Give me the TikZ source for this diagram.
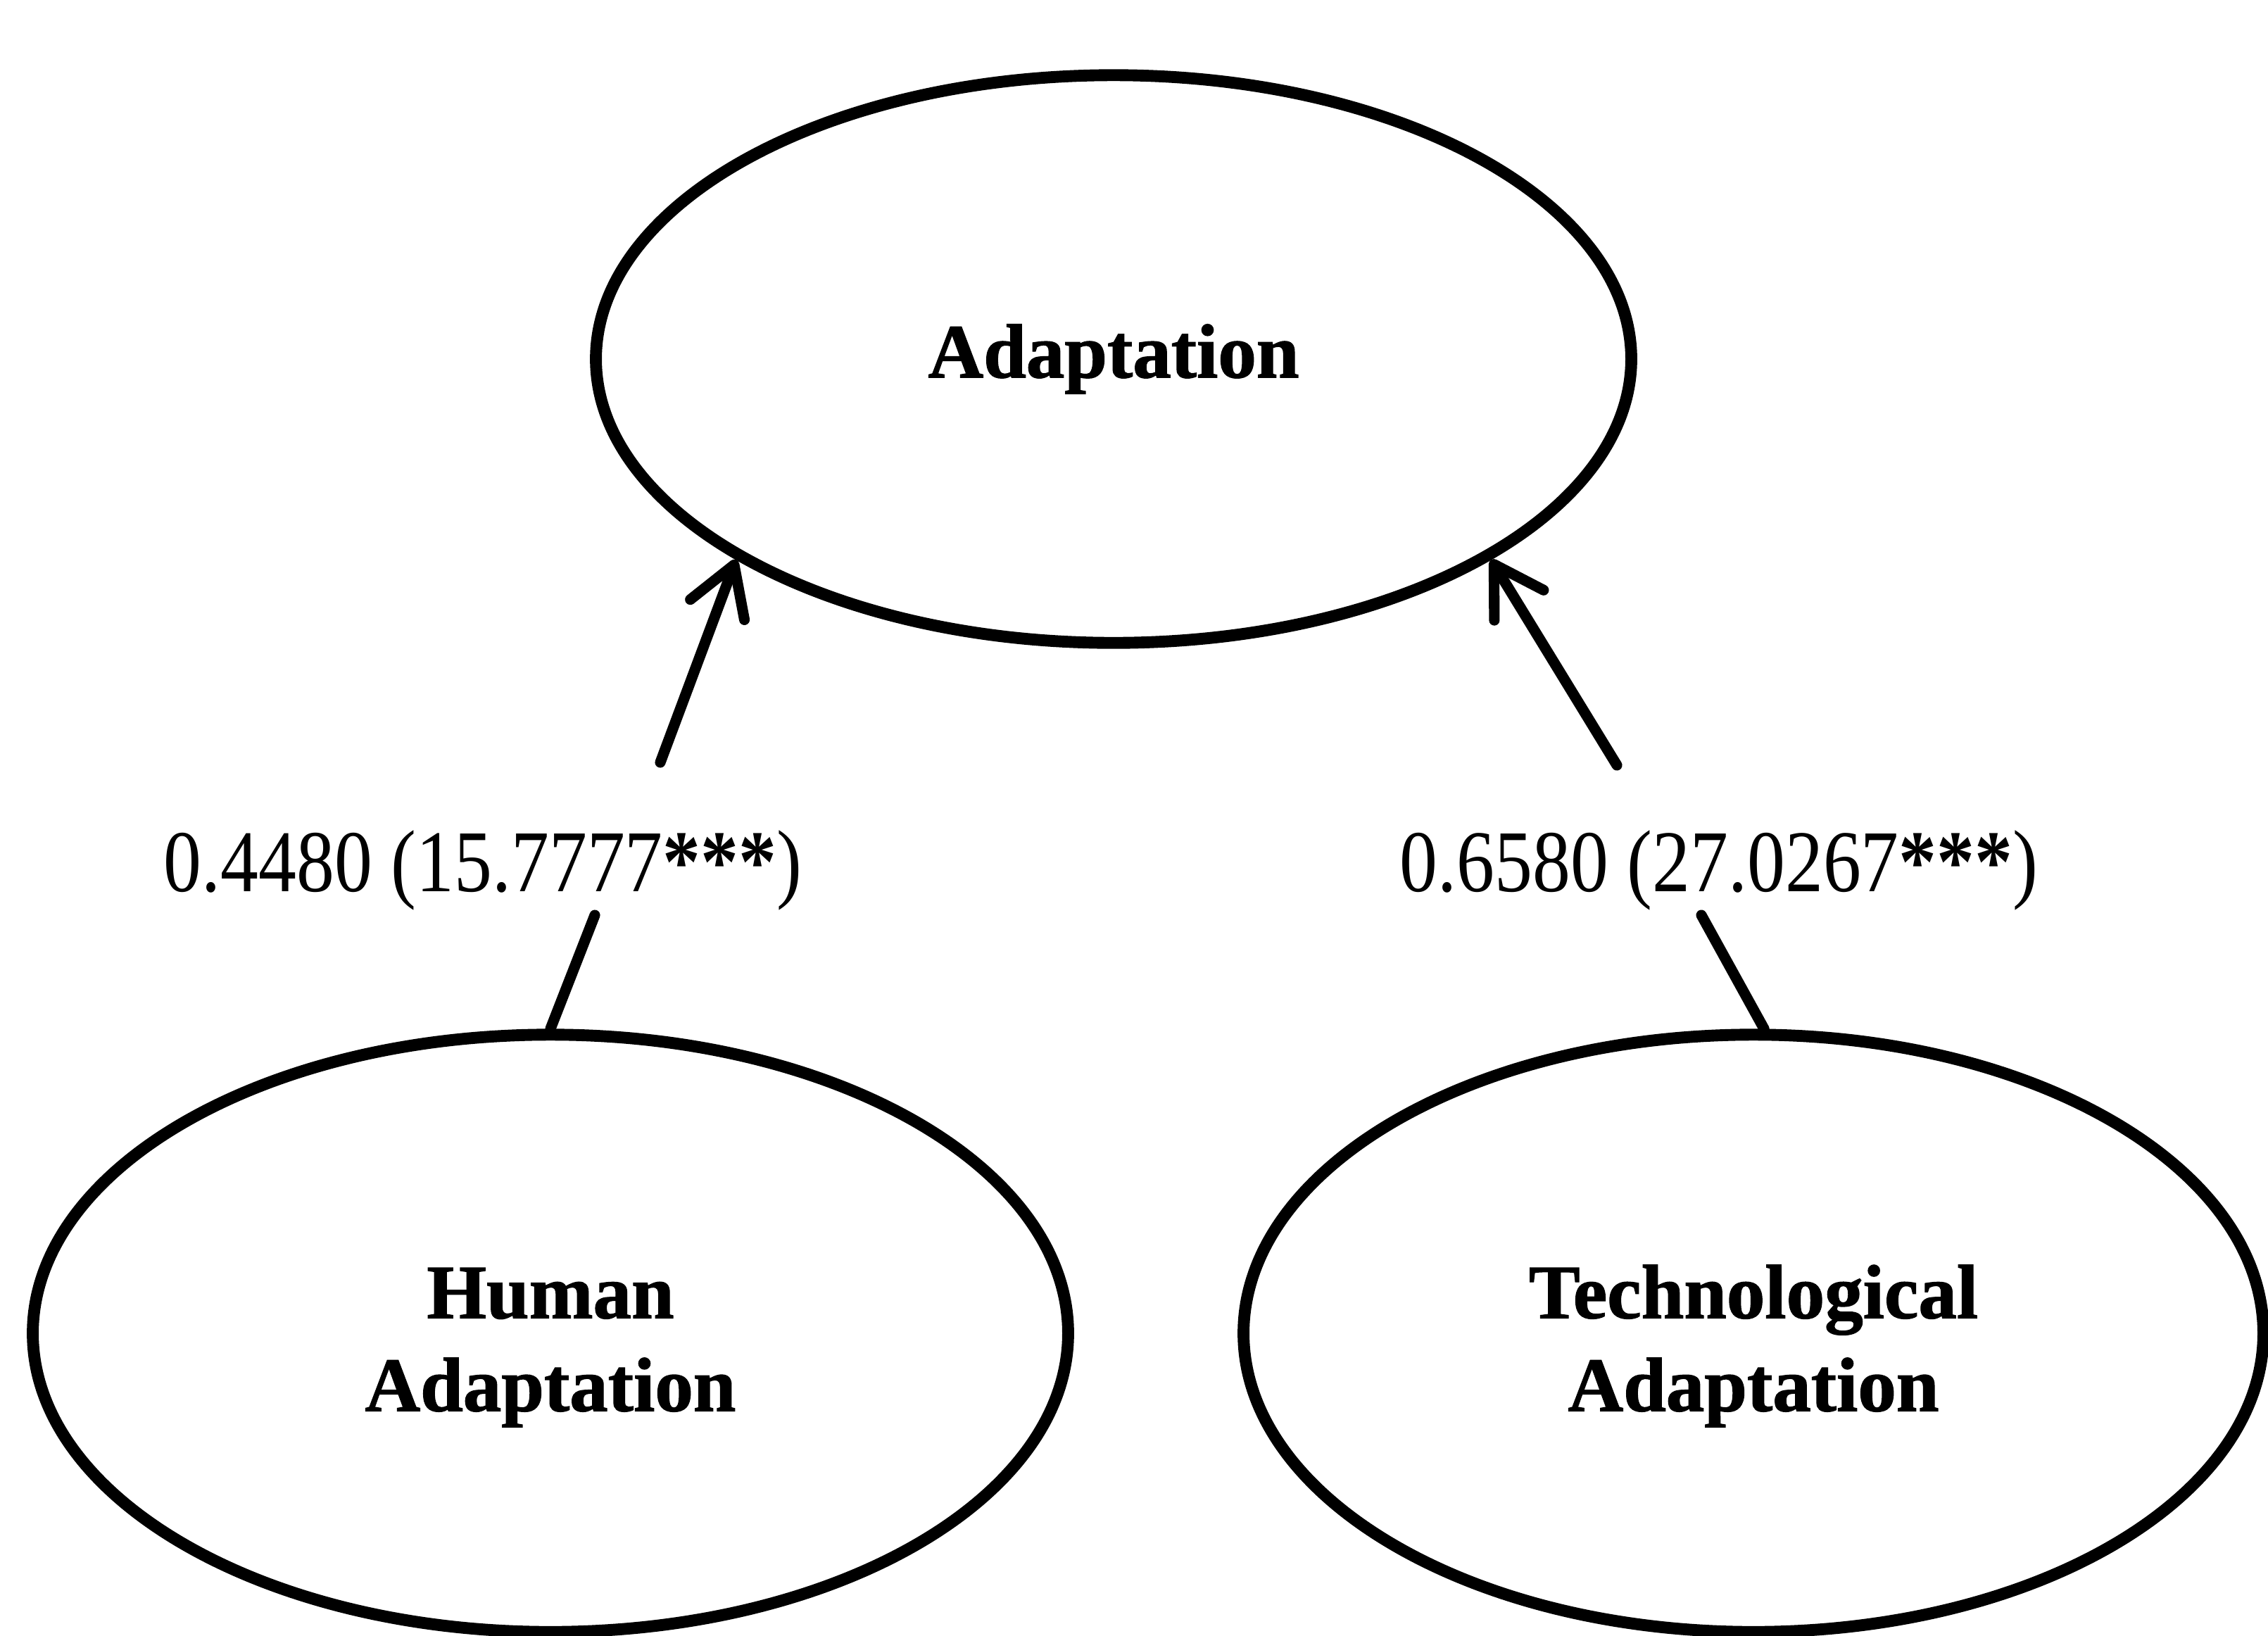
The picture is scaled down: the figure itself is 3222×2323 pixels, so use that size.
\documentclass[tikz,border=0pt]{standalone}
\usepackage{fontspec}
\setmainfont{Liberation Serif}
\newfontfamily\bcond{Liberation Serif}[FakeStretch=1.0,FakeBold=1.2]
\newfontfamily\rcond{Liberation Serif}[FakeStretch=0.86]
\usetikzlibrary{shapes.geometric,arrows.meta}
\newcommand{\twolines}[2]{\raisebox{-1.8mm}[\height][\depth]{\begin{tabular}{@{}c@{}}#1\\#2\end{tabular}}}
\begin{document}
\begin{tikzpicture}[x=0.01cm,y=-0.01cm,
  oval/.style={ellipse,draw,line width=4.8pt,fill=white,inner sep=0pt,
    minimum width=14.7cm,minimum height=8.48cm,align=center,
    font=\bcond\bfseries\fontsize{31}{37.5}\selectfont},
  coef/.style={inner sep=0pt,font=\rcond\fontsize{35.6}{40}\selectfont},
  link/.style={line width=4.3pt,line cap=round},
  arr/.style={link,-{Straight Barb[length=6.8mm,width=8.2mm,line cap=round,line join=round]}}]
\fill[white] (0,0) rectangle (3222,2323);
\useasboundingbox (0,0) rectangle (3222,2323);
\node[oval,minimum height=8.06cm] (ad) at (1582,510) {Adaptation};
\node[oval] (ha) at (782,1894) {\twolines{Human}{Adaptation}};
\node[oval,minimum width=14.48cm] (ta) at (2491,1894) {\twolines{Technological}{Adaptation}};
\node[coef] (l1) at (686,1236) {0.4480 (15.7777\textbf{***})};
\node[coef] (l2) at (2442,1236) {0.6580 (27.0267\textbf{***})};
\coordinate (l1b) at (845,1300);
\coordinate (l1t) at (938,1083);
\coordinate (l2b) at (2417,1300);
\coordinate (l2t) at (2297,1087);
\draw[link] (ha.north) -- (l1b);
\draw[arr] (l1t) -- (ad.208.2);
\draw[link] (ta.88) -- (l2b);
\draw[arr] (l2t) -- (ad.332.6);
\end{tikzpicture}
\end{document}
